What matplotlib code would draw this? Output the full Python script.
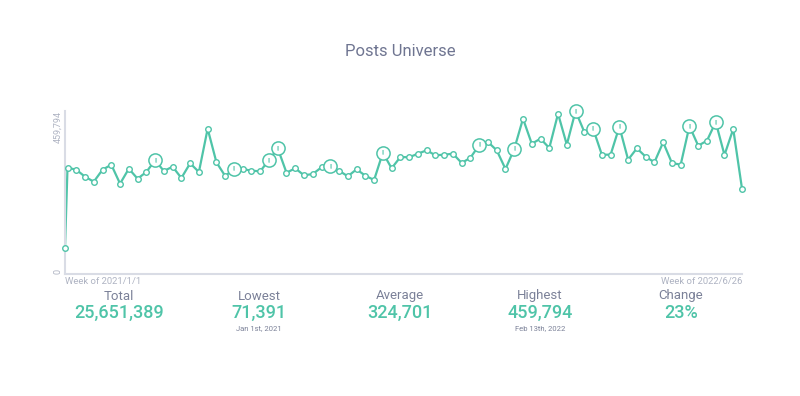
import datetime as dt
import matplotlib
matplotlib.use("Agg")
import matplotlib.pyplot as plt

plt.rcParams['font.family'] = ['Roboto', 'DejaVu Sans']

title = "Posts Universe"
first_date = dt.date(2021, 1, 1)
week_start = dt.date(2021, 1, 3)
n_weeks = 78
dates = [first_date] + [week_start + dt.timedelta(days=7 * k) for k in range(n_weeks)]

values = [
    71391, 299361, 293702, 273896, 259748, 293702, 307850, 254089, 296532, 268237,
    287194, 320299, 290024, 302191, 270217, 311811, 287194, 409712, 314640, 275876,
    295683, 295683, 290873, 289175, 321148, 354253, 285214, 297663, 277857, 281535,
    300493, 303322, 290873, 275027, 294834, 276725, 264558, 341804, 297663, 329637,
    328788, 338974, 348594, 334447, 336145, 338974, 312660, 327656, 363591, 372079,
    348594, 295683, 352273, 438007, 367269, 381417, 355102, 452154, 364440, 459794,
    400374, 409712, 336145, 336145, 415371, 321997, 354253, 330486, 314640, 371230,
    312660, 307850, 417351, 361610, 375758, 428669, 335296, 408863, 239942,
]
flag_idx = [11, 20, 24, 25, 31, 37, 48, 52, 59, 61, 64, 72, 75]

x_labels = ["Week of 2021/1/1", "Week of 2022/6/26"]
y_tick_labels = ["0", "459,794"]
y_max = 459794

stat_names = ["Total", "Lowest", "Average", "Highest", "Change"]
stat_values = ["25,651,389", "71,391", "324,701", "459,794", "23%"]
stat_subs = ["", "Jan 1st, 2021", "", "Feb 13th, 2022", ""]

TEAL = "#4fc4a8"
LABEL = "#7b8198"
LIGHT = "#aeb3c2"
AXIS = "#d9dce5"

fig = plt.figure(figsize=(8, 3.96), dpi=100)
ax = fig.add_axes([65 / 800, 1 - 273.5 / 396, 677 / 800, 162.5 / 396])

ax.plot(dates, values, color=TEAL, lw=1.6, zorder=2, clip_on=False)
normal = [i for i in range(len(values)) if i not in flag_idx]
ax.plot([dates[i] for i in normal], [values[i] for i in normal], ls='none',
        marker='o', ms=4, mfc='white', mec=TEAL, mew=1.0, zorder=3, clip_on=False)
ax.plot([dates[i] for i in flag_idx], [values[i] for i in flag_idx], ls='none',
        marker='o', ms=9.5, mfc='white', mec=TEAL, mew=1.1, zorder=4, clip_on=False)
for i in flag_idx:
    ax.text(dates[i], values[i], "!", color=TEAL, fontsize=5.5, fontweight='bold',
            ha='center', va='center', zorder=5)

ax.set_xlim(dates[0], dates[-1])
ax.set_ylim(0, y_max)
for s in ['top', 'right']:
    ax.spines[s].set_visible(False)
ax.spines['left'].set_color(AXIS)
ax.spines['bottom'].set_color(AXIS)
ax.spines['left'].set_linewidth(1.5)
ax.spines['bottom'].set_linewidth(1.5)
ax.set_xticks([])
ax.set_yticks([])

ax.text(-0.011, 0, y_tick_labels[0], transform=ax.transAxes, rotation=90,
        ha='center', va='bottom', fontsize=6.5, color=LIGHT)
ax.text(-0.011, 1, y_tick_labels[1], transform=ax.transAxes, rotation=90,
        ha='center', va='top', fontsize=6.5, color=LIGHT)
ax.text(0, -0.048, x_labels[0], transform=ax.transAxes, ha='left', va='center',
        fontsize=6.8, color=LIGHT)
ax.text(1, -0.048, x_labels[1], transform=ax.transAxes, ha='right', va='center',
        fontsize=6.8, color=LIGHT)

fig.text(0.5, 1 - 52 / 396, title, ha='center', va='center', fontsize=12,
         color="#6f7591")

centers = [119, 259, 400, 540, 681]
for cx, name, val, sub in zip(centers, stat_names, stat_values, stat_subs):
    fig.text(cx / 800, 1 - 296 / 396, name, ha='center', va='center',
             fontsize=9.5, color=LABEL)
    fig.text(cx / 800, 1 - 313 / 396, val, ha='center', va='center',
             fontsize=13, color=TEAL, fontweight='medium')
    if sub:
        fig.text(cx / 800, 1 - 328.5 / 396, sub, ha='center', va='center',
                 fontsize=5.5, color=LABEL)

fig.savefig("out.png", dpi=100, facecolor='white')
